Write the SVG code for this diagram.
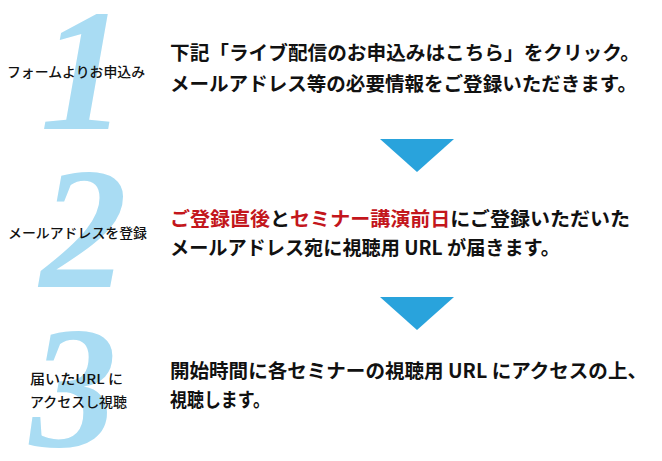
<svg xmlns="http://www.w3.org/2000/svg" width="662" height="461" viewBox="0 0 662 461">
<style>
.num{font-family:"Liberation Serif",serif;font-style:italic;font-weight:bold;font-size:174px;fill:#a9dcf3}
.lbl{font-family:"Noto Sans CJK JP","Noto Sans",sans-serif;font-size:13.5px;fill:#111;font-weight:500}
.main{font-family:"Noto Sans CJK JP","Noto Sans",sans-serif;font-size:19.5px;fill:#111;font-weight:700}
.red{fill:#c3161c}
.arrow{fill:#29a3dc}
</style>
<rect width="662" height="461" fill="#fff"/>
<g id="step1">
<text class="num" x="40" y="129">1</text>
<text class="lbl" x="7" y="77" textLength="138" lengthAdjust="spacingAndGlyphs">フォームよりお申込み</text>
<text class="main" x="170" y="60" textLength="470" lengthAdjust="spacingAndGlyphs">下記「ライブ配信のお申込みはこちら」をクリック。</text>
<text class="main" x="170" y="91" textLength="467" lengthAdjust="spacingAndGlyphs">メールアドレス等の必要情報をご登録いただきます。</text>
</g>
<g id="step2">
<text class="num" x="40" y="287">2</text>
<text class="lbl" x="8" y="238" textLength="139" lengthAdjust="spacingAndGlyphs">メールアドレスを登録</text>
<text class="main" x="170" y="226" textLength="460" lengthAdjust="spacingAndGlyphs"><tspan class="red">ご登録直後</tspan>と<tspan class="red">セミナー講演前日</tspan>にご登録いただいた</text>
<text class="main" x="170" y="255" textLength="390" lengthAdjust="spacingAndGlyphs">メールアドレス宛に視聴用 URL が届きます。</text>
</g>
<g id="step3">
<text class="num" x="30" y="446">3</text>
<text class="lbl" x="30" y="384" textLength="93" lengthAdjust="spacingAndGlyphs">届いたURL に</text>
<text class="lbl" x="30" y="407" textLength="97" lengthAdjust="spacingAndGlyphs">アクセスし視聴</text>
<text class="main" x="170" y="378" textLength="477" lengthAdjust="spacingAndGlyphs">開始時間に各セミナーの視聴用 URL にアクセスの上、</text>
<text class="main" x="170" y="407" textLength="100" lengthAdjust="spacingAndGlyphs">視聴します。</text>
</g>
<g id="connectors">
<polygon class="arrow" points="380,139 454,139 417,172"/>
<polygon class="arrow" points="380,297 454,297 417,330"/>
</g>
</svg>
